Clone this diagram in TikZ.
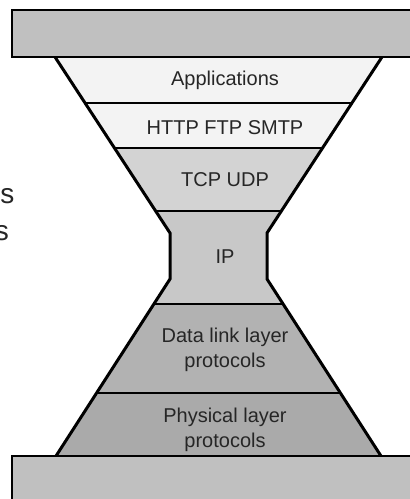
\documentclass[tikz,border=0pt]{standalone}
\usepackage{fontspec}
\setmainfont{Liberation Sans}
\definecolor{bandlight}{HTML}{F3F3F3}
\definecolor{bandtcp}{HTML}{D3D3D3}
\definecolor{bandip}{HTML}{C8C8C8}
\definecolor{banddata}{HTML}{B2B2B2}
\definecolor{bandphys}{HTML}{AAAAAA}
\definecolor{slab}{HTML}{C0C0C0}
\begin{document}
\begin{tikzpicture}[x=1pt,y=-1pt, every node/.style={font=\fontsize{20}{25}\selectfont, align=center, text=black!85}]
        \tikzstyle{sep}=[line width=1.4pt]
        \tikzstyle{rim}=[line width=3pt, line join=miter]
        \useasboundingbox (0,0) rectangle (410,499);
        % bands
        \fill [bandlight] (55,57) -- (382,57) -- (352,103) -- (85,103) -- cycle;
        \fill [bandlight] (85,103) -- (352,103) -- (322.5,148) -- (114.5,148) -- cycle;
        \fill [bandtcp] (114.5,148) -- (322.5,148) -- (281.4,211) -- (155.6,211) -- cycle;
        \fill [bandip] (155.6,211) -- (281.4,211) -- (267,233) -- (267,279) -- (283.1,304) -- (153.9,304) -- (170,279) -- (170,233) -- cycle;
        \fill [banddata] (153.9,304) -- (283.1,304) -- (340.4,393) -- (96.6,393) -- cycle;
        \fill [bandphys] (96.6,393) -- (340.4,393) -- (381,456) -- (56,456) -- cycle;
        \draw [sep] (85,103) -- (352,103);
        \draw [sep] (114.5,148) -- (322.5,148);
        \draw [sep] (155.6,211) -- (281.4,211);
        \draw [sep] (153.9,304) -- (283.1,304);
        \draw [sep] (96.6,393) -- (340.4,393);
        % outline
        \draw [rim] (55,57) -- (170,233) -- (170,279) -- (56,456);
        \draw [rim] (382,57) -- (267,233) -- (267,279) -- (381,456);
        % slabs
        \draw [fill=slab, line width=2pt] (12,10) rectangle (416,57);
        \draw [fill=slab, line width=2pt] (12,456) rectangle (416,505);
        % labels
        \node (app) at (225,80) {Applications};
        \node (http) at (225,128) {HTTP FTP SMTP};
        \node (tcp) at (225,180) {TCP UDP};
        \node (ip) at (225,257) {IP};
        \node (data) at (225,350) {Data link layer\\protocols};
        \node (phys) at (225,430) {Physical layer\\protocols};
        \node [anchor=base east, font=\fontsize{28}{34}\selectfont] (lefta) at (18,203) {ls};
        \node [anchor=base east, font=\fontsize{28}{34}\selectfont] (leftb) at (12.5,240) {s};
\end{tikzpicture}
\end{document}
